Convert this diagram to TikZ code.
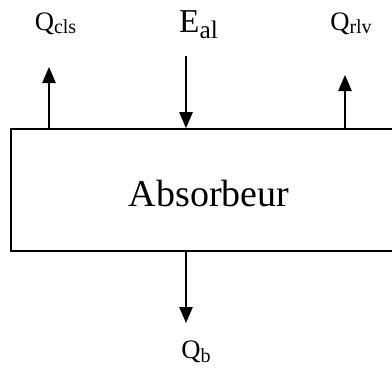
\documentclass[tikz,border=0pt]{standalone}
\usepackage{fontspec}
\setmainfont{Liberation Serif}
\usetikzlibrary{arrows.meta,positioning}
\tikzset{
  absbox/.style={rectangle,draw,line width=1.3pt,inner sep=0pt,
    minimum width=297pt,minimum height=91.5pt,
    text height=24pt,text depth=0pt,font=\fontsize{28.5}{32}\selectfont},
  flow/.style={-{Triangle[length=12pt,width=10pt]},line width=1.2pt},
  qlbl/.style={anchor=base,inner sep=0pt,font=\fontsize{20}{22}\selectfont},
  elbl/.style={anchor=base,inner sep=0pt,font=\fontsize{25}{28}\selectfont}
}
% lowered small text for the indices
\newcommand{\sbs}[3]{\raisebox{-#2}{\fontsize{#1}{#1}\selectfont #3}}

\begin{document}
\begin{tikzpicture}[x=0.75pt,y=-0.75pt]
\useasboundingbox (0,0) rectangle (392,372);
\clip (0,0) rectangle (392,372);
\node[absbox] (abs) at (209,190) {Absorbeur};
\coordinate (clstip) at (49,67);
\coordinate (altail) at (186,56);
\coordinate (rlvtip) at (345,75);
\coordinate (btip) at (186,323);
% flows in and out of the absorber
\draw[flow] (abs.north -| clstip) -- (clstip);
\draw[flow] (altail) -- (altail |- abs.north);
\draw[flow] (abs.north -| rlvtip) -- (rlvtip);
\draw[flow] (abs.south -| btip) -- (btip);
\node[qlbl] (qcls) at (55.5,30) {Q\sbs{15}{2.5pt}{cls}};
\node[elbl] (eal) at (198.5,32) {E\sbs{19}{4.5pt}{al}};
\node[qlbl] (qrlv) at (351,30) {Q\sbs{15}{2.5pt}{rlv}};
\node[qlbl] (qb) at (196,358) {Q\sbs{15}{3.5pt}{b}};
\end{tikzpicture}
\end{document}
